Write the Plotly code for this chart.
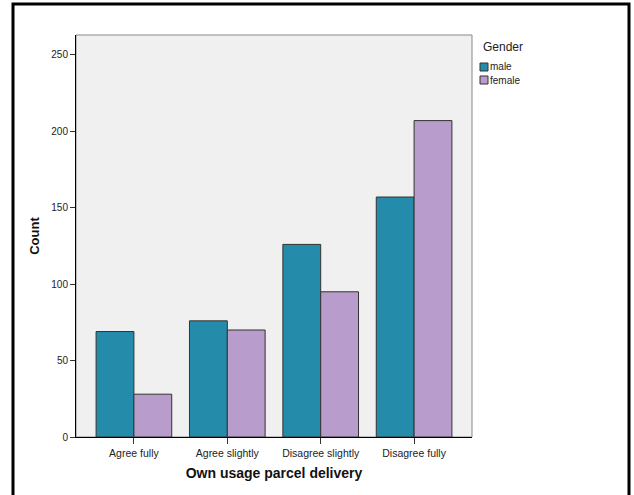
import plotly.graph_objects as go

categories = ["Agree fully", "Agree slightly", "Disagree slightly", "Disagree fully"]
male = [69, 76, 126, 157]
female = [28, 70, 95, 207]
y_ticks = [0, 50, 100, 150, 200, 250]
series_names = ["male", "female"]
series_colors = ["#248BAA", "#B89CCB"]

W, H = 634, 495
L, R, T, B = 76, 472, 35, 437

def px2paper_x(px):
    return (px - L) / (R - L)

def px2paper_y(py):
    return (B - py) / (B - T)

fig = go.Figure()
for name, vals, col in zip(series_names, [male, female], series_colors):
    fig.add_trace(go.Bar(name=name, x=categories, y=vals, showlegend=False,
                         marker=dict(color=col, line=dict(color="#333333", width=1))))

shapes = [
    dict(type="rect", xref="paper", yref="paper", x0=0, x1=1, y0=0, y1=1,
         line=dict(color="#888888", width=1), layer="below"),
    dict(type="rect", xref="paper", yref="paper",
         x0=px2paper_x(13), x1=px2paper_x(629), y0=px2paper_y(505), y1=px2paper_y(4),
         line=dict(color="black", width=3)),
]
annotations = [
    dict(text="Gender", xref="paper", yref="paper", x=px2paper_x(481), y=px2paper_y(47),
         xanchor="left", yanchor="middle", showarrow=False,
         font=dict(size=12, color="#222222")),
]
for i, (name, col) in enumerate(zip(series_names, series_colors)):
    yc = 67 + i * 13
    shapes.append(dict(type="rect", xref="paper", yref="paper",
                       x0=px2paper_x(480), x1=px2paper_x(488),
                       y0=px2paper_y(yc + 4), y1=px2paper_y(yc - 4),
                       fillcolor=col, line=dict(color="#333333", width=1)))
    annotations.append(dict(text=name, xref="paper", yref="paper",
                            x=px2paper_x(488), y=px2paper_y(yc),
                            xanchor="left", yanchor="middle", showarrow=False,
                            font=dict(size=10, color="#222222")))

fig.update_layout(
    width=W, height=H,
    margin=dict(l=L, r=W - R, t=T, b=H - B, pad=0),
    paper_bgcolor="white",
    plot_bgcolor="#F0F0F0",
    barmode="group",
    bargap=0.19,
    bargroupgap=0,
    showlegend=False,
    font=dict(family="Liberation Sans, Arial, sans-serif", color="#222222"),
    xaxis=dict(
        range=[-0.62, 3.62],
        showline=True, linecolor="black", linewidth=1,
        ticks="outside", ticklen=6, tickcolor="#333333",
        tickfont=dict(size=10.5, color="#222222"),
        title=dict(text="<b>Own usage parcel delivery</b>", font=dict(size=14, color="#111111"), standoff=10),
        showgrid=False, zeroline=False,
    ),
    yaxis=dict(
        range=[0, 263],
        tickvals=y_ticks,
        showline=True, linecolor="black", linewidth=1,
        ticks="outside", ticklen=5, tickcolor="#333333",
        tickfont=dict(size=10, color="#222222"),
        title=dict(text="<b>Count</b>", font=dict(size=13, color="#111111"), standoff=8),
        showgrid=False, zeroline=False,
    ),
    shapes=shapes,
    annotations=annotations,
)

fig.write_html("out.html", config={"displayModeBar": False},
               post_script="document.body.style.margin='0';document.body.style.overflow='hidden';")
